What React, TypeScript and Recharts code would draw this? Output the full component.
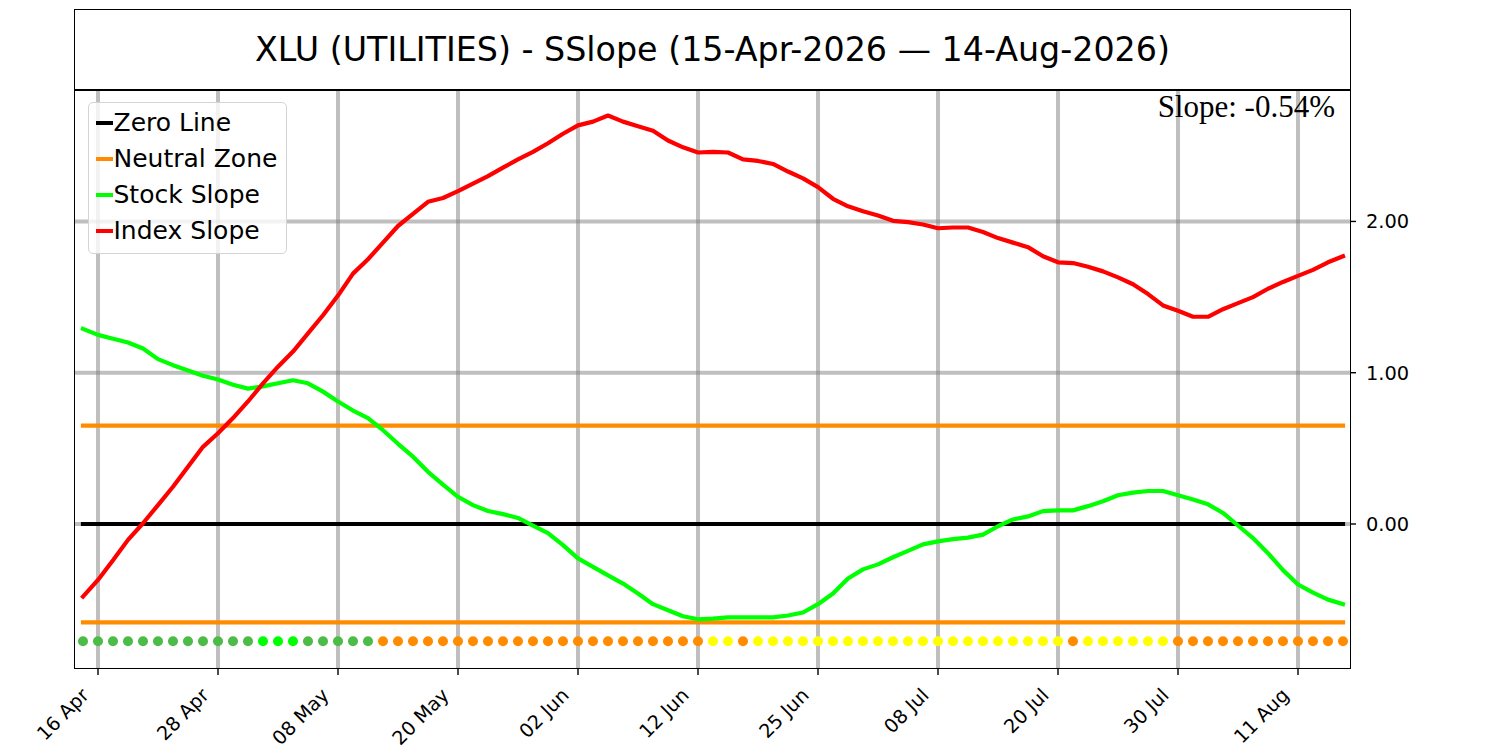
import React from 'react';
import { ComposedChart, Line, XAxis, YAxis, CartesianGrid, Legend } from 'recharts';

// ---- data ----
const tickIndices = [1, 9, 17, 25, 33, 41, 49, 57, 65, 73, 81];
const tickLabels = ['16 Apr', '28 Apr', '08 May', '20 May', '02 Jun', '12 Jun', '25 Jun', '08 Jul', '20 Jul', '30 Jul', '11 Aug'];
const yTicks = [0, 1, 2];
const yTickLabels = ['0.00', '1.00', '2.00'];

const stockSlope = [
  1.29, 1.25, 1.225, 1.2, 1.16, 1.09, 1.05, 1.015, 0.98, 0.955,
  0.92, 0.895, 0.91, 0.93, 0.95, 0.93, 0.875, 0.81, 0.75, 0.7,
  0.62, 0.53, 0.445, 0.345, 0.26, 0.18, 0.125, 0.086, 0.065, 0.04,
  -0.01, -0.06, -0.14, -0.227, -0.283, -0.34, -0.394, -0.46, -0.53, -0.57,
  -0.61, -0.63, -0.625, -0.617, -0.617, -0.617, -0.617, -0.605, -0.585, -0.53,
  -0.46, -0.36, -0.3, -0.267, -0.22, -0.178, -0.135, -0.115, -0.1, -0.09,
  -0.07, -0.015, 0.03, 0.05, 0.085, 0.09, 0.09, 0.118, 0.15, 0.19,
  0.207, 0.218, 0.218, 0.19, 0.162, 0.13, 0.073, -0.01, -0.093, -0.193,
  -0.305, -0.4, -0.454, -0.5, -0.53,
];

const indexSlope = [
  -0.48, -0.37, -0.24, -0.105, 0.005, 0.125, 0.246, 0.378, 0.51, 0.6,
  0.7, 0.81, 0.93, 1.04, 1.14, 1.26, 1.38, 1.51, 1.655, 1.75,
  1.86, 1.97, 2.05, 2.13, 2.155, 2.2, 2.25, 2.3, 2.356, 2.41,
  2.46, 2.517, 2.58, 2.635, 2.66, 2.7, 2.66, 2.63, 2.6, 2.535,
  2.49, 2.456, 2.46, 2.456, 2.41, 2.4, 2.38, 2.33, 2.285, 2.227,
  2.15, 2.1, 2.067, 2.04, 2.004, 1.996, 1.98, 1.955, 1.96, 1.96,
  1.93, 1.89, 1.86, 1.83, 1.77, 1.73, 1.725, 1.7, 1.67, 1.63,
  1.585, 1.52, 1.445, 1.41, 1.37, 1.37, 1.42, 1.46, 1.5, 1.555,
  1.6, 1.64, 1.68, 1.73, 1.77,
];

const zeroLevel = 0;
const neutralLevel = 0.65;
const signalLevel = -0.775;

// g = mild green, G = strong green, o = orange, y = yellow
const signalCodes = [
  'g', 'g', 'g', 'g', 'g', 'g', 'g', 'g', 'g', 'g', 'g', 'g',
  'G', 'G', 'G',
  'g', 'g', 'g', 'g', 'g',
  'o', 'o', 'o', 'o', 'o', 'o', 'o', 'o', 'o', 'o', 'o', 'o', 'o', 'o', 'o', 'o', 'o', 'o', 'o', 'o', 'o', 'o',
  'y', 'y',
  'o',
  'y', 'y', 'y', 'y', 'y', 'y', 'y', 'y', 'y', 'y', 'y', 'y', 'y', 'y', 'y', 'y', 'y', 'y', 'y', 'y', 'y',
  'o',
  'y', 'y', 'y', 'y', 'y', 'y',
  'o', 'o', 'o', 'o', 'o', 'o', 'o', 'o', 'o', 'o', 'o', 'o',
];
const signalPalette: Record<string, string> = { g: '#4cbb47', G: '#00ff00', o: '#ff8c00', y: '#ffff00' };

const seriesNames = ['Zero Line', 'Neutral Zone', 'Stock Slope', 'Index Slope'];
const seriesColors = ['#000000', '#ff8c00', '#00ff00', '#ff0000'];

const titleText = 'XLU (UTILITIES) - SSlope (15-Apr-2026 \u2014 14-Aug-2026)';
const slopeText = 'Slope: -0.54%';

const rows = stockSlope.map((s, i) => ({
  i,
  stock: s,
  index: indexSlope[i],
  zero: zeroLevel,
  nzUp: neutralLevel,
  nzDn: -neutralLevel,
  sig: signalLevel,
  sigColor: signalPalette[signalCodes[i]],
}));

const SANS = '"DejaVu Sans", sans-serif';

const XTick = (props: any) => {
  const { x, y, payload } = props;
  const k = tickIndices.indexOf(payload.value);
  const label = k >= 0 ? tickLabels[k] : String(payload.value);
  return (
    <g transform={`translate(${x - 8},${y + 21.5})`}>
      <text x={0} y={0} textAnchor="end" transform="rotate(-45)" fontFamily={SANS} fontSize={19.2} fill="#000">
        {label}
      </text>
    </g>
  );
};

const YTick = (props: any) => {
  const { x, y, payload } = props;
  const k = yTicks.indexOf(payload.value);
  const label = k >= 0 ? yTickLabels[k] : String(payload.value);
  return (
    <text x={x} y={y} dy="0.36em" textAnchor="start" fontFamily={SANS} fontSize={19.4} fill="#000">
      {label}
    </text>
  );
};

const SignalDot = (props: any) => {
  const { cx, cy, index, payload } = props;
  if (cx == null || cy == null) return <g key={`s${index}`} />;
  return <circle key={`s${index}`} cx={cx} cy={cy} r={5} fill={payload.sigColor} stroke="none" />;
};

const LegendBox = () => (
  <div
    style={{
      position: 'relative',
      width: 199,
      height: 152,
      boxSizing: 'border-box',
      border: '1.3px solid #d4d4d4',
      borderRadius: 5,
      background: 'rgba(255,255,255,0.8)',
    }}
  >
    {seriesNames.map((name, k) => (
      <div
        key={name}
        style={{
          position: 'absolute',
          left: 7,
          top: 1.7 + k * 36.1,
          height: 36,
          display: 'flex',
          alignItems: 'center',
          whiteSpace: 'nowrap',
        }}
      >
        <span style={{ display: 'inline-block', width: 17, height: 4.2, background: seriesColors[k], marginRight: 0.5 }} />
        <span style={{ fontFamily: SANS, fontSize: 25, color: '#000', lineHeight: '36px' }}>{name}</span>
      </div>
    ))}
  </div>
);

export default function App() {
  return (
    <div style={{ position: 'absolute', left: 0, top: 0, width: 1500, height: 750, background: '#fff', overflow: 'hidden' }}>
      <ComposedChart
        width={1500}
        height={750}
        data={rows}
        margin={{ top: 90, left: 75, right: 90, bottom: 22 }}
      >
        <CartesianGrid stroke="#808080" strokeOpacity={0.5} strokeWidth={4} verticalValues={tickIndices} horizontalValues={yTicks} />
        <XAxis
          xAxisId={0}
          dataKey="i"
          type="number"
          domain={[-0.533, 84.467]}
          allowDataOverflow
          ticks={tickIndices}
          interval={0}
          tick={<XTick />}
          tickSize={7}
          tickMargin={0}
          axisLine={false}
          tickLine={{ stroke: '#000', strokeWidth: 1.4 }}
          height={60}
        />
        <YAxis
          yAxisId={0}
          orientation="right"
          type="number"
          domain={[-0.952, 2.869]}
          allowDataOverflow
          ticks={yTicks}
          interval={0}
          tick={<YTick />}
          tickSize={6}
          tickMargin={10}
          axisLine={false}
          tickLine={{ stroke: '#000', strokeWidth: 1.4 }}
          width={60}
        />
        <Line dataKey="zero" name={seriesNames[0]} stroke={seriesColors[0]} strokeWidth={4.2} strokeLinecap="square" dot={false} activeDot={false} isAnimationActive={false} />
        <Line dataKey="nzUp" name={seriesNames[1]} stroke={seriesColors[1]} strokeWidth={4.2} strokeLinecap="square" dot={false} activeDot={false} isAnimationActive={false} />
        <Line dataKey="nzDn" name="Neutral Zone Low" stroke={seriesColors[1]} strokeWidth={4.2} strokeLinecap="square" dot={false} activeDot={false} isAnimationActive={false} legendType="none" />
        <Line dataKey="stock" name={seriesNames[2]} stroke={seriesColors[2]} strokeWidth={4.2} strokeLinecap="square" strokeLinejoin="round" dot={false} activeDot={false} isAnimationActive={false} />
        <Line dataKey="index" name={seriesNames[3]} stroke={seriesColors[3]} strokeWidth={4.2} strokeLinecap="square" strokeLinejoin="round" dot={false} activeDot={false} isAnimationActive={false} />
        <Line dataKey="sig" name="Signal" stroke="none" dot={SignalDot} activeDot={false} isAnimationActive={false} legendType="none" />
        <Legend
          layout="vertical"
          align="center"
          verticalAlign="middle"
          wrapperStyle={{ left: 88, top: 102, width: 199, height: 152 }}
          content={() => <LegendBox />}
        />
      </ComposedChart>
      {/* plot frame */}
      <div
        style={{
          position: 'absolute',
          left: 74.3,
          top: 89.3,
          width: 1276.4,
          height: 579.4,
          boxSizing: 'border-box',
          border: '1.4px solid #000',
          pointerEvents: 'none',
        }}
      />
      {/* title box */}
      <div
        style={{
          position: 'absolute',
          left: 74.3,
          top: 9.3,
          width: 1276.4,
          height: 81.4,
          boxSizing: 'border-box',
          border: '1.4px solid #000',
          display: 'flex',
          alignItems: 'center',
          justifyContent: 'center',
          fontFamily: SANS,
          fontSize: 33.3,
          color: '#000',
          whiteSpace: 'nowrap',
        }}
      >
        {titleText}
      </div>
      <div
        style={{
          position: 'absolute',
          left: 0,
          top: 92.4,
          width: 1335,
          textAlign: 'right',
          fontFamily: '"Liberation Serif", "Times New Roman", serif',
          fontSize: 31,
          lineHeight: '30.6px',
          color: '#000',
          whiteSpace: 'nowrap',
          pointerEvents: 'none',
        }}
      >
        {slopeText}
      </div>
    </div>
  );
}
